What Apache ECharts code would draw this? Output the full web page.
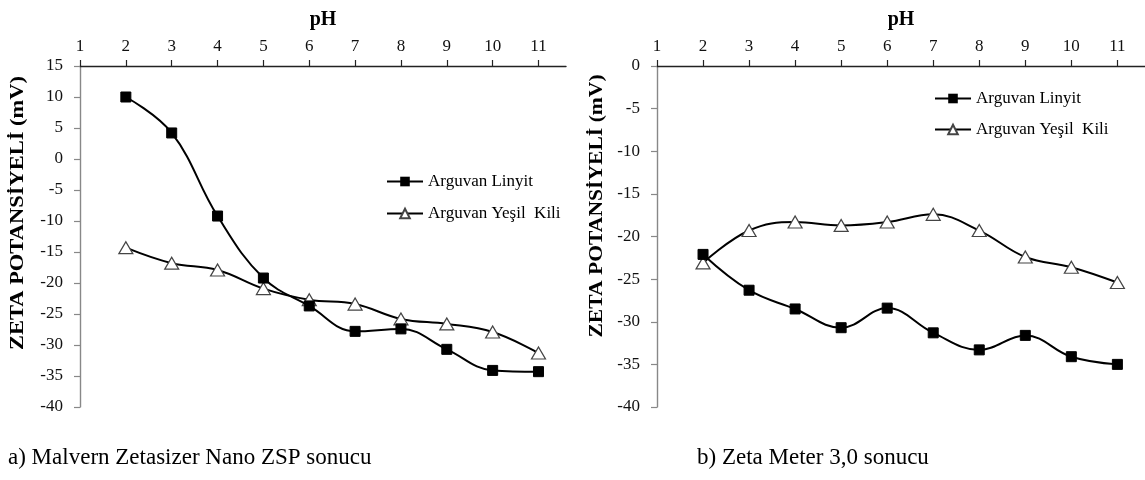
<!DOCTYPE html>
<html>
<head>
<meta charset="utf-8">
<script src="https://cdn.jsdelivr.net/npm/echarts@6/dist/echarts.min.js"></script>
<style>
html,body{margin:0;padding:0;background:#fff;}
#chart{width:1145px;height:480px;}
</style>
</head>
<body>
<div id="chart"></div>
<script>
// ---- data ----
const phValues = [2, 3, 4, 5, 6, 7, 8, 9, 10, 11];
const phTicks = [1, 2, 3, 4, 5, 6, 7, 8, 9, 10, 11];
const malvernLinyit = [10.0, 4.2, -9.2, -19.2, -23.7, -27.8, -27.4, -30.7, -34.1, -34.3];
const malvernYesil = [-14.3, -16.8, -17.9, -20.9, -22.7, -23.4, -25.8, -26.6, -27.9, -31.3];
const zetaLinyit = [-22.1, -26.3, -28.5, -30.7, -28.4, -31.3, -33.3, -31.6, -34.1, -35.0];
const zetaYesil = [-23.1, -19.3, -18.3, -18.7, -18.3, -17.4, -19.3, -22.4, -23.6, -25.4];
const nameLinyit = 'Arguvan Linyit';
const nameYesil = 'Arguvan Yeşil  Kili';
const xTitle = 'pH';
const yTitle = 'ZETA POTANSİYELİ (mV)';
const captionA = 'a) Malvern Zetasizer Nano ZSP sonucu';
const captionB = 'b) Zeta Meter 3,0 sonucu';

const FONT = '"Times New Roman", "Liberation Serif", serif';

function pairs(ys) { return phValues.map((x, i) => [x, ys[i]]); }

function xAxisCfg(gi) {
  return {
    type: 'value', gridIndex: gi, position: 'top', min: 1, max: 11.6,
    axisLine: { show: true, onZero: false, lineStyle: { color: '#222', width: 1.4 } },
    axisTick: { show: true, inside: false, length: 6, customValues: phTicks, lineStyle: { color: '#222', width: 1.2 } },
    axisLabel: { customValues: phTicks, margin: 11, fontFamily: FONT, fontSize: 17, color: '#111' },
    splitLine: { show: false },
    name: xTitle, nameLocation: 'middle', nameGap: 36,
    nameTextStyle: { fontFamily: FONT, fontSize: 20, fontWeight: 'bold', color: '#000' }
  };
}
function yAxisCfg(gi, min, max) {
  return {
    type: 'value', gridIndex: gi, min: min, max: max, interval: 5,
    axisLine: { show: true, onZero: false, lineStyle: { color: '#888', width: 1.4 } },
    axisTick: { show: true, inside: false, length: 6, lineStyle: { color: '#888', width: 1.2 } },
    axisLabel: { margin: 17, fontFamily: FONT, fontSize: 17, color: '#111' },
    splitLine: { show: false }
  };
}
function lineSeries(name, gi, ys, isTri) {
  return {
    name: name, type: 'line', xAxisIndex: gi, yAxisIndex: gi,
    data: pairs(ys), smooth: 0.4,
    symbol: isTri ? 'triangle' : 'rect',
    symbolSize: isTri ? [14, 12] : 10,
    lineStyle: { color: '#000', width: 2 },
    itemStyle: isTri ? { color: '#fff', borderColor: '#444', borderWidth: 1.2 } : { color: '#000', borderColor: '#000' },
    z: isTri ? 2 : 3,
    animation: false
  };
}
function legendCfg(left, top, gap) {
  return {
    left: left, top: top, orient: 'vertical', itemWidth: 36, itemHeight: 12, itemGap: gap,
    data: [nameLinyit, nameYesil],
    textStyle: { fontFamily: FONT, fontSize: 17, color: '#000' },
    selectedMode: false
  };
}

const chart = echarts.init(document.getElementById('chart'), null, { renderer: 'canvas' });
chart.setOption({
  animation: false,
  backgroundColor: '#fff',
  grid: [
    { left: 80, top: 66, width: 486, height: 341, outerBoundsMode: 'none' },
    { left: 657, top: 66, right: 0, height: 341, outerBoundsMode: 'none' }
  ],
  xAxis: [xAxisCfg(0), xAxisCfg(1)],
  yAxis: [yAxisCfg(0, -40, 15), yAxisCfg(1, -40, 0)],
  legend: [legendCfg(381, 168, 15), legendCfg(929, 85, 14)],
  series: [
    lineSeries(nameYesil, 0, malvernYesil, true),
    lineSeries(nameLinyit, 0, malvernLinyit, false),
    lineSeries(nameYesil, 1, zetaYesil, true),
    lineSeries(nameLinyit, 1, zetaLinyit, false)
  ],
  graphic: [
    { type: 'text', x: 18, y: 213, rotation: Math.PI / 2, scaleX: 1.25,
      style: { text: yTitle, fontFamily: FONT, fontSize: 18, fontWeight: 'bold', fill: '#000', align: 'center', verticalAlign: 'middle' } },
    { type: 'text', x: 597, y: 206, rotation: Math.PI / 2, scaleX: 1.2,
      style: { text: yTitle, fontFamily: FONT, fontSize: 18, fontWeight: 'bold', fill: '#000', align: 'center', verticalAlign: 'middle' } },
    { type: 'text', x: 8, y: 458,
      style: { text: captionA, fontFamily: FONT, fontSize: 23, fill: '#000', align: 'left', verticalAlign: 'middle' } },
    { type: 'text', x: 697, y: 458,
      style: { text: captionB, fontFamily: FONT, fontSize: 23, fill: '#000', align: 'left', verticalAlign: 'middle' } }
  ]
});
</script>
</body>
</html>
